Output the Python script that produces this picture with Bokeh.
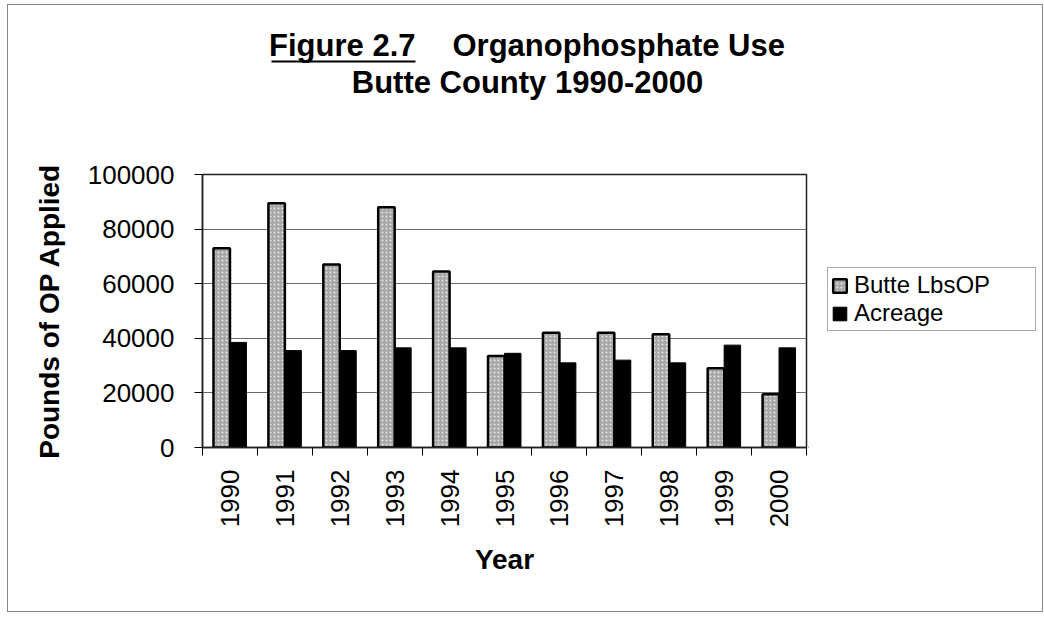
import math
from bokeh.plotting import figure
from bokeh.layouts import column, row
from bokeh.models import (ColumnDataSource, Range1d, FixedTicker, BasicTickFormatter,
                          Legend, LegendItem, Label, BoxAnnotation)
from bokeh.transform import dodge
from bokeh.embed import file_html
from bokeh.resources import INLINE

# ---- data ----
years = [1990, 1991, 1992, 1993, 1994, 1995, 1996, 1997, 1998, 1999, 2000]
butte_lbs_op = [73000, 89500, 67000, 88000, 64500, 33500, 42000, 42000, 41500, 29000, 19500]
acreage = [38500, 35500, 35500, 36500, 36500, 34500, 31000, 32000, 31000, 37500, 36500]
y_ticks = [0, 20000, 40000, 60000, 80000, 100000]
series_names = ["Butte LbsOP", "Acreage"]
title_part1 = "Figure 2.7"
title_part2 = "Organophosphate Use"
title_line2 = "Butte County 1990-2000"
x_title = "Year"
y_title = "Pounds of OP Applied"

FONT = "Liberation Sans"
GRAY_STYLE = dict(fill_color="#a8a8a8", line_color="black", line_width=2.5,
                  hatch_pattern="dot", hatch_color="white", hatch_scale=4, hatch_alpha=0.7)
BLACK_STYLE = dict(fill_color="black", line_color="black", line_width=1)

# ---------------- title strip ----------------
tf = figure(width=1044, height=150, output_backend="svg", toolbar_location=None,
            x_range=Range1d(0, 1044), y_range=Range1d(150, 0),
            x_axis_type=None, y_axis_type=None, min_border=0)
tf.outline_line_color = None
tf.border_fill_alpha = 0
tf.background_fill_alpha = 0
tf.xgrid.visible = False
tf.ygrid.visible = False
common = dict(text_font=FONT, text_font_size="31px", text_font_style="bold",
              text_color="black", text_baseline="alphabetic")
tf.add_layout(Label(x=415, y=45, text=title_part1, text_align="right", **common))
tf.add_layout(Label(x=452, y=45, text=title_part2, text_align="left", **common))
tf.add_layout(Label(x=527, y=82, text=title_line2, text_align="center", **common))
tf.add_layout(BoxAnnotation(left=271, right=415, top=60, bottom=62,
                            fill_color="black", fill_alpha=1, line_color=None))

# ---------------- main chart ----------------
src = ColumnDataSource(dict(year=years, lbs=butte_lbs_op, acre=acreage))

p = figure(width=808, height=466, output_backend="svg", toolbar_location=None,
           x_range=Range1d(1989.5, 2000.5), y_range=Range1d(0, 100000),
           min_border_left=202, min_border_right=2, min_border_top=24,
           min_border_bottom=169)
p.border_fill_alpha = 0
p.outline_line_color = "#222222"
p.outline_line_width = 1.5

r1 = p.vbar(x=dodge("year", -0.15), top="lbs", width=0.3, source=src, **GRAY_STYLE)
r2 = p.vbar(x=dodge("year", 0.15), top="acre", width=0.3, source=src, **BLACK_STYLE)

xa = p.xaxis[0]
xa.ticker = FixedTicker(ticks=years, minor_ticks=[y - 0.5 for y in years] + [years[-1] + 0.5])
xa.major_tick_out = 0
xa.major_tick_in = 0
xa.minor_tick_out = 8
xa.minor_tick_in = 0
xa.minor_tick_line_color = "black"
xa.major_label_orientation = math.pi / 2
xa.major_label_standoff = 14
xa.formatter = BasicTickFormatter(use_scientific=False)
xa.axis_label = x_title
xa.axis_label_standoff = 14

ya = p.yaxis[0]
ya.ticker = FixedTicker(ticks=y_ticks)
ya.formatter = BasicTickFormatter(use_scientific=False)
ya.major_tick_out = 8
ya.major_tick_in = 0
ya.minor_tick_out = 0
ya.minor_tick_in = 0
ya.major_label_standoff = 20
ya.axis_label = y_title
ya.axis_label_standoff = 20

for ax in (xa, ya):
    ax.axis_line_color = "#222222"
    ax.axis_line_width = 1.5
    ax.major_tick_line_color = "black"
    ax.major_label_text_font = FONT
    ax.major_label_text_font_size = "26px"
    ax.major_label_text_color = "black"
    ax.axis_label_text_font = FONT
    ax.axis_label_text_font_size = "28px"
    ax.axis_label_text_font_style = "bold"
    ax.axis_label_text_color = "black"

p.xgrid.grid_line_color = None
p.ygrid.grid_line_color = "#6a6a6a"
p.ygrid.grid_line_width = 1

# ---------------- legend strip (frame aligned with main chart) ----------------
lf = figure(width=236, height=466, output_backend="svg", toolbar_location=None,
            x_range=Range1d(0, 1), y_range=Range1d(0, 1),
            x_axis_type=None, y_axis_type=None,
            min_border_left=0, min_border_top=24, min_border_right=0,
            min_border_bottom=169)
lf.outline_line_color = None
lf.border_fill_alpha = 0
lf.background_fill_alpha = 0
lf.xgrid.visible = False
lf.ygrid.visible = False
# swatch-only renderers (their single point lies outside the visible range)
swatch = ColumnDataSource(dict(x=[-5.0], top=[0.0]))
l1 = lf.vbar(x="x", top="top", width=0.3, source=swatch, **GRAY_STYLE)
l2 = lf.vbar(x="x", top="top", width=0.3, source=swatch, **BLACK_STYLE)
legend = Legend(items=[LegendItem(label=series_names[0], renderers=[l1]),
                       LegendItem(label=series_names[1], renderers=[l2])],
                location=(19, 116), orientation="vertical",
                label_text_font=FONT, label_text_font_size="24px",
                label_text_color="black", label_height=20, label_width=178,
                label_standoff=6, glyph_width=17, glyph_height=17,
                spacing=0, padding=3, margin=0,
                border_line_color="#555555", border_line_width=1,
                background_fill_color="white")
lf.add_layout(legend)

layout = column(tf, row(p, lf),
                styles={"box-shadow": "inset 3px 0 0 4px white, inset 3px 0 0 5px #8a8a8a",
                        "background-color": "white"})

open("out.html", "w").write(file_html(layout, INLINE))
